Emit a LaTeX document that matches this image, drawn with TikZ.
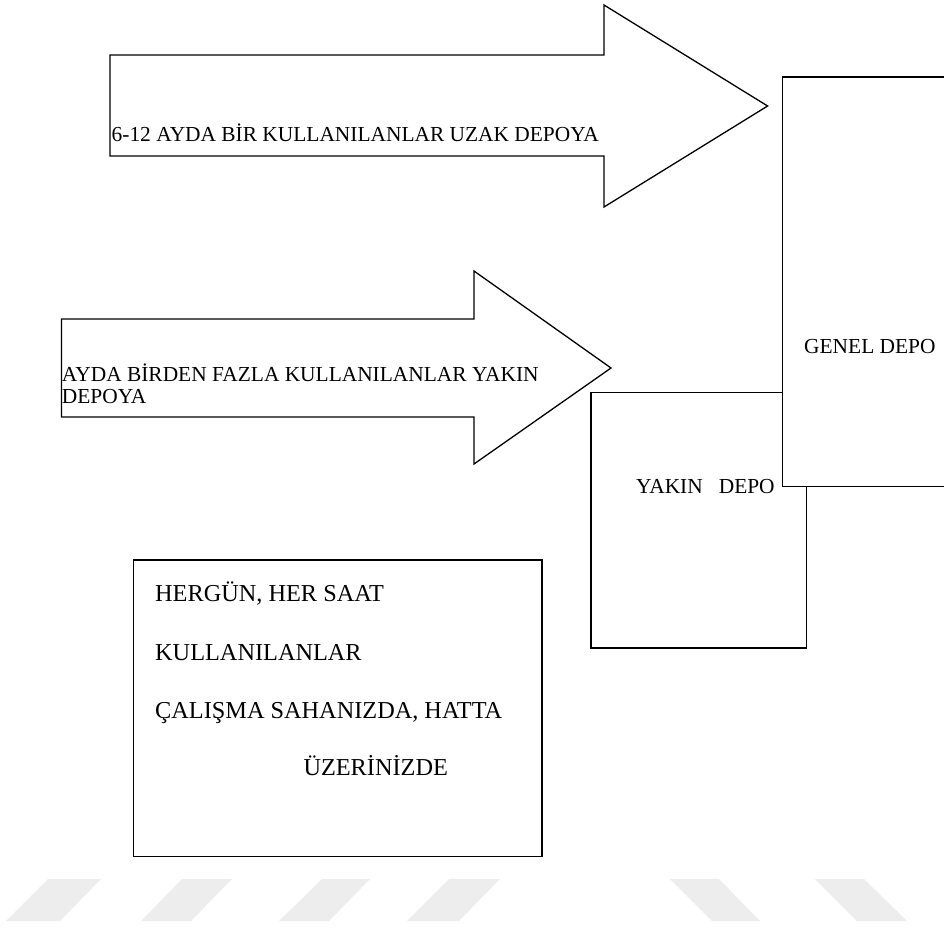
\documentclass[tikz,border=0pt]{standalone}
\usepackage{fontspec}
\setmainfont{Liberation Serif}
\begin{document}
\begin{tikzpicture}[x=1pt,y=-1pt,
  outline/.style={draw=black,line width=1.3pt,line join=miter},
  lbl/.style={inner sep=0pt,anchor=base west,font=\fontsize{21.4}{21.6}\selectfont},
  lblbig/.style={inner sep=0pt,anchor=base west,font=\fontsize{24.3}{26}\selectfont},
  stripe/.style={fill=black!7,draw=none}]
\useasboundingbox (0,0) rectangle (944,929);
% arrows
\draw[outline] (110,55) -- (604,55) -- (604,5) -- (767.6,106) -- (604,207) -- (604,156) -- (110,156) -- cycle;
\draw[outline] (61.4,319) -- (474,319) -- (474,271) -- (611,368) -- (474,464) -- (474,417) -- (61.4,417) -- cycle;
% boxes
\draw[outline,fill=white] (591,392.3) rectangle (806.7,648);
\draw[outline,fill=white] (782.7,77) rectangle (960,486.7);
\draw[outline] (133.7,560) rectangle (541.9,856.5);
% texts
\node[lbl] (t1) at (111.5,141.7) {6-12 AYDA BİR KULLANILANLAR UZAK DEPOYA};
\node[lbl] (t2a) at (61.7,381.7) {AYDA BİRDEN FAZLA KULLANILANLAR YAKIN};
\node[lbl] (t2b) at (61.7,403.3) {DEPOYA};
\node[lbl] (genel) at (804,353) {GENEL DEPO};
\node[lbl] (yakin) at (636,493) {YAKIN\ \ \ DEPO};
\node[lblbig] (b1) at (155,601.7) {HERGÜN, HER SAAT};
\node[lblbig] (b2) at (155,660) {KULLANILANLAR};
\node[lblbig] (b3) at (155,718.3) {ÇALIŞMA SAHANIZDA, HATTA};
\node[lblbig] (b4) at (303.3,775) {ÜZERİNİZDE};
% watermark stripes
\fill[stripe] (48,879) -- (101,879) -- (60,921) -- (6,921) -- cycle;
\fill[stripe] (182,879) -- (232,879) -- (191,921) -- (141,921) -- cycle;
\fill[stripe] (322,879) -- (370,879) -- (329,921) -- (279,921) -- cycle;
\fill[stripe] (449,879) -- (500,879) -- (459,921) -- (407,921) -- cycle;
\fill[stripe] (670,879) -- (719,879) -- (760,921) -- (712,921) -- cycle;
\fill[stripe] (815,879) -- (864,879) -- (907,921) -- (857,921) -- cycle;
\end{tikzpicture}
\end{document}
